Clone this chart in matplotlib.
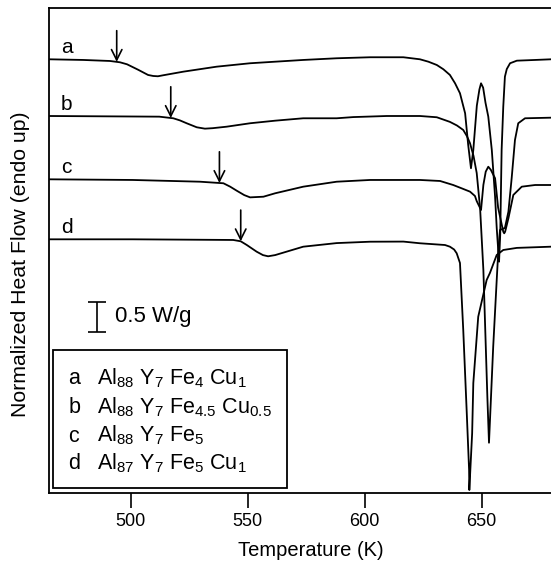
import numpy as np
import matplotlib
matplotlib.use("Agg")
import matplotlib.pyplot as plt
from matplotlib.patches import Rectangle

plt.rcParams["font.family"] = ["Liberation Sans", "DejaVu Sans"]
plt.rcParams["mathtext.fontset"] = "custom"
plt.rcParams["mathtext.rm"] = "Liberation Sans"
plt.rcParams["mathtext.it"] = "Liberation Sans:italic"

# DSC traces: temperature (K), heat flow (W/g, offset)
t_a = [465.2, 479.7, 491.1, 495.4, 498.4, 503.1, 507.4, 509.6, 511.6, 513.9, 522.5,
       536.7, 551.0, 561.7, 573.7, 588.0, 602.3, 616.5, 623.6, 627.2, 630.8, 633.6,
       636.4, 638.6, 640.7, 642.9, 644.2, 645.4, 646.4, 647.9, 649.0, 649.7, 650.6,
       651.6, 652.8, 654.3, 655.7, 656.4, 657.1, 657.4, 657.9, 658.5, 659.2, 659.9,
       660.7, 662.1, 665.0, 672.8, 679.6]
hf_a = [7.223, 7.212, 7.195, 7.173, 7.140, 7.050, 6.962, 6.945, 6.940, 6.957, 7.017,
        7.100, 7.157, 7.183, 7.212, 7.240, 7.257, 7.257, 7.223, 7.183, 7.128, 7.057,
        6.962, 6.823, 6.657, 6.323, 5.800, 5.407, 5.712, 6.450, 6.720, 6.823, 6.750,
        6.500, 6.267, 5.712, 4.933, 4.412, 4.012, 3.850, 4.300, 5.712, 6.433, 6.933,
        7.060, 7.157, 7.200, 7.212, 7.223]

t_b = [465.2, 486.6, 512.2, 518.2, 521.0, 523.9, 528.2, 531.7, 535.0, 541.0, 551.0,
       561.7, 573.7, 588.0, 595.1, 609.4, 623.6, 630.8, 636.4, 639.4, 642.1, 643.7,
       645.0, 646.5, 647.85, 649.3, 650.7, 652.4, 653.1, 654.9, 656.4, 657.1, 657.8,
       659.9, 661.4, 662.8, 664.2, 665.6, 668.5, 679.6]
hf_b = [6.278, 6.273, 6.267, 6.240, 6.205, 6.157, 6.090, 6.067, 6.075, 6.100, 6.157,
        6.200, 6.240, 6.240, 6.260, 6.278, 6.278, 6.257, 6.180, 6.120, 6.045, 5.940,
        5.823, 5.610, 5.328, 4.740, 3.712, 1.600, 0.833, 2.433, 3.545, 4.045, 4.378,
        4.412, 4.683, 5.245, 5.878, 6.157, 6.240, 6.250]

t_c = [465.2, 500.8, 529.6, 539.6, 542.5, 545.3, 548.5, 551.0, 556.7, 561.7, 573.7,
       588.0, 602.3, 623.6, 632.2, 637.8, 641.6, 645.0, 647.1, 647.85, 649.7, 650.7,
       651.7, 652.8, 653.9, 655.7, 657.0, 659.2, 659.6, 660.0, 661.4, 663.5, 667.1,
       672.8, 679.6]
hf_c = [5.223, 5.212, 5.183, 5.157, 5.100, 5.033, 4.960, 4.922, 4.933, 4.990, 5.100,
        5.183, 5.212, 5.212, 5.195, 5.128, 5.070, 5.017, 4.945, 4.860, 4.712, 5.130,
        5.350, 5.433, 5.380, 5.240, 4.750, 4.350, 4.323, 4.350, 4.573, 4.962, 5.100,
        5.128, 5.128]

t_d = [465.2, 500.8, 543.8, 547.0, 549.6, 553.8, 556.5, 558.7, 561.7, 573.7, 588.0,
       602.3, 616.5, 623.6, 634.3, 636.4, 638.2, 639.3, 640.7, 642.1, 643.6, 644.6,
       644.7, 645.9, 646.4, 648.5, 652.1, 653.5, 656.4, 659.2, 665.0, 679.6]
hf_d = [4.223, 4.223, 4.212, 4.190, 4.128, 4.017, 3.960, 3.940, 3.960, 4.100, 4.160,
        4.183, 4.185, 4.157, 4.128, 4.100, 4.053, 3.990, 3.828, 2.712, 1.328, 0.378,
        0.045, 0.990, 1.828, 2.933, 3.545, 3.662, 3.962, 4.045, 4.080, 4.100]

curves = [(t_a, hf_a), (t_b, hf_b), (t_c, hf_c), (t_d, hf_d)]
labels = ["a", "b", "c", "d"]
tg_marks = [494.0, 517.1, 537.9, 547.0]   # glass transition arrows (K)
formulas = [
    r"Al$_{\mathrm{88}}$ Y$_{\mathrm{7}}$ Fe$_{\mathrm{4}}$ Cu$_{\mathrm{1}}$",
    r"Al$_{\mathrm{88}}$ Y$_{\mathrm{7}}$ Fe$_{\mathrm{4.5}}$ Cu$_{\mathrm{0.5}}$",
    r"Al$_{\mathrm{88}}$ Y$_{\mathrm{7}}$ Fe$_{\mathrm{5}}$",
    r"Al$_{\mathrm{87}}$ Y$_{\mathrm{7}}$ Fe$_{\mathrm{5}}$ Cu$_{\mathrm{1}}$",
]
xticks = [500, 550, 600, 650]
scale_bar = 0.5   # W/g

fig = plt.figure(figsize=(5.51, 5.64), dpi=100)
ax = fig.add_axes([0.0895, 0.1264, 0.9105, 0.8589])

for (t, hf), lab, tg in zip(curves, labels, tg_marks):
    ax.plot(t, hf, color="black", lw=1.3, solid_joinstyle="round")
    ax.text(472.6, hf[0] + 0.1, lab, fontsize=15, ha="center", va="baseline")
    tip = np.interp(tg, t[:12], hf[:12])
    ax.annotate("", xy=(tg, tip), xytext=(tg, tip + 0.52),
                arrowprops=dict(arrowstyle="->,head_length=0.5,head_width=0.25",
                                mutation_scale=15, lw=1.2, color="black",
                                shrinkA=0, shrinkB=0))

# scale bar
ax.errorbar([485.5], [2.683 + scale_bar / 2], yerr=scale_bar / 2, color="black",
            lw=1.2, capsize=6.4, capthick=1.2)
ax.text(493.3, 2.933, f"{scale_bar} W/g", fontsize=16, ha="left", va="center")

# composition box
ax.add_patch(Rectangle((0.008, 0.0091), 0.4664, 0.2855, transform=ax.transAxes,
                       fill=False, lw=1.3, ec="black"))
ys = [0.2238, 0.1639, 0.1053, 0.0489]
for lab, f, y in zip(labels, formulas, ys):
    ax.text(0.0379, y, lab, transform=ax.transAxes, fontsize=15.5, va="baseline")
    ax.text(0.0945, y, f, transform=ax.transAxes, fontsize=15.5, va="baseline")

ax.set_xlim(465.2, 679.6)
ax.set_ylim(0, 8.073)
ax.set_xticks(xticks)
ax.set_yticks([])
ax.tick_params(axis="x", direction="out", length=10.6, width=1.2, labelsize=13, pad=4)
ax.spines["right"].set_visible(False)
for s in ["top", "left", "bottom"]:
    ax.spines[s].set_linewidth(1.3)

fig.text(0.0363, 0.5316, "Normalized Heat Flow (endo up)", rotation=90,
         fontsize=15.3, ha="center", va="center")
fig.text(0.5635, 0.0248, "Temperature (K)", fontsize=14.5, ha="center", va="center")

fig.savefig("out.png", dpi=100)
